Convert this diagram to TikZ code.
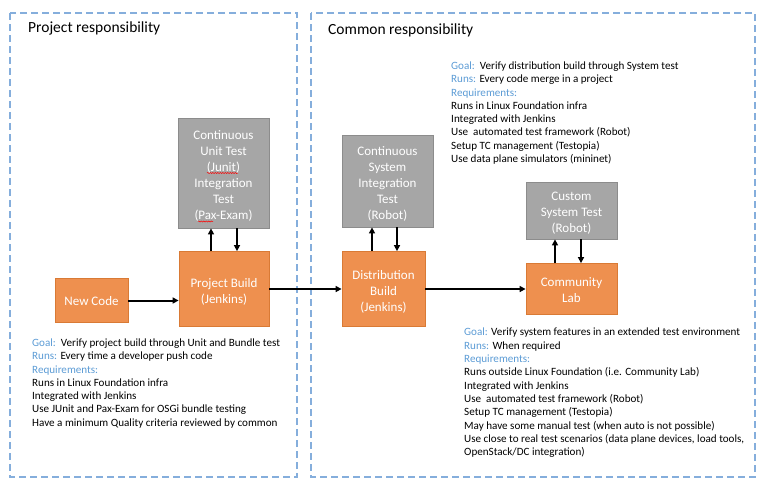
\documentclass[tikz,border=0pt]{standalone}
\usepackage{fontspec}
\setmainfont{Carlito}
\usetikzlibrary{arrows.meta,calc,decorations.pathmorphing}
\definecolor{dashblue}{HTML}{85AEDC}
\definecolor{lblblue}{HTML}{5B9BD5}
\definecolor{orfill}{HTML}{EE904F}
\definecolor{ordraw}{HTML}{D97A35}
\definecolor{gyfill}{HTML}{A6A6A6}
\definecolor{gydraw}{HTML}{8C8C8C}
\tikzset{
  region/.style={draw=dashblue, line width=1.3pt, dash pattern=on 7pt off 4pt},
  orbox/.style={draw=ordraw, fill=orfill, line width=0.8pt, inner sep=0pt},
  gybox/.style={draw=gydraw, fill=gyfill, line width=0.8pt, inner sep=0pt},
  btxt/.style={text=white, align=center, inner sep=0pt, yshift=-2.5pt,
    font=\fontsize{13}{16}\selectfont},
  arr/.style={line width=2pt, -{Triangle[length=6pt,width=6pt]}},
  info/.style={align=left, anchor=north west, inner sep=0pt, font=\fontsize{11.1}{13.3}\selectfont},
  ttl/.style={anchor=west, inner sep=0pt, font=\fontsize{15.5}{17}\selectfont},
  squig/.style={draw=red, line width=0.5pt, decorate, decoration={snake, amplitude=0.6pt, segment length=2.5pt}}
}
\newcommand{\lb}[1]{\textcolor{lblblue}{#1}}
\begin{document}
\begin{tikzpicture}[x=1pt,y=-1pt]
\useasboundingbox (0,0) rectangle (768,488);
% regions
\draw[region] (10,13) rectangle (297,477);
\draw[region] (311,13) rectangle (755,477);
\node[ttl] (t1) at (28,28) {Project responsibility};
\node[ttl] (t2) at (328,30) {Common responsibility};
% boxes
\node[gybox, minimum width=91pt, minimum height=110pt,
  label={[btxt, name=cutt]center:{Continuous\\Unit Test\\(Junit)\\Integration\\Test\\(Pax-Exam)}}] (cut) at (223.5,173) {};
\node[gybox, minimum width=91pt, minimum height=92pt,
  label={[btxt, name=csitt]center:{Continuous\\System\\Integration\\Test\\(Robot)}}] (csit) at (387.5,181) {};
\node[gybox, minimum width=91pt, minimum height=57pt,
  label={[btxt, name=cstt]center:{Custom\\System Test\\(Robot)}}] (cst) at (571.5,210.5) {};
\node[orbox, minimum width=73pt, minimum height=44pt,
  label={[btxt, yshift=1.5pt, name=nct]center:{New Code}}] (nc) at (91.5,300.5) {};
\node[orbox, minimum width=90pt, minimum height=75pt,
  label={[btxt, name=pbt]center:{Project Build\\(Jenkins)}}] (pb) at (224,289) {};
\node[orbox, minimum width=83pt, minimum height=75pt,
  label={[btxt, name=dbt]center:{Distribution\\Build\\(Jenkins)}}] (db) at (383.5,289) {};
\node[orbox, minimum width=91pt, minimum height=51pt,
  label={[btxt, yshift=1pt, name=clt]center:{Community\\Lab}}] (cl) at (571.5,289) {};
% arrows
\draw[arr] (nc.east) -- (pb.west |- nc.east);
\draw[arr] (pb.east) -- (db.west);
\draw[arr] (db.east) -- (cl.west);
\draw[arr] ([xshift=-13pt]pb.north) -- ([xshift=-13pt]pb.north |- cut.south);
\draw[arr] ([xshift=13pt]pb.north |- cut.south) -- ([xshift=13pt]pb.north);
\draw[arr] ([xshift=-11.5pt]db.north) -- ([xshift=-11.5pt]db.north |- csit.south);
\draw[arr] ([xshift=13.5pt]db.north |- csit.south) -- ([xshift=13.5pt]db.north);
\draw[arr] ([xshift=-16.5pt]cl.north) -- ([xshift=-16.5pt]cl.north |- cst.south);
\draw[arr] ([xshift=9.5pt]cl.north |- cst.south) -- ([xshift=9.5pt]cl.north);
% spell-check marks
\coordinate (s1a) at (207,173); \coordinate (s1b) at (238,173);
\coordinate (s2a) at (198,221.5); \coordinate (s2b) at (213,221.5);
\draw[squig] (s1a) -- (s1b);
\draw[squig] (s2a) -- (s2b);
% info texts
\node[info] (i1) at (32,338.5) {\lb{Goal:}\ \ Verify project build through Unit and Bundle test\\
\lb{Runs:} Every time a developer push code\\
\lb{Requirements:}\\
Runs in Linux Foundation infra\\
Integrated with Jenkins\\
Use JUnit and Pax-Exam for OSGi bundle testing\\
Have a minimum Quality criteria reviewed by common};
\node[info] (i2) at (451,61.5) {\lb{Goal:}\ \ Verify distribution build through System test\\
\lb{Runs:} Every code merge in a project\\
\lb{Requirements:}\\
Runs in Linux Foundation infra\\
Integrated with Jenkins\\
Use\ \ automated test framework (Robot)\\
Setup TC management (Testopia)\\
Use data plane simulators (mininet)};
\node[info] (i3) at (464,328) {\lb{Goal:} Verify system features in an extended test environment\\
\lb{Runs:} When required\\
\lb{Requirements:}\\
Runs outside Linux Foundation (i.e. Community Lab)\\
Integrated with Jenkins\\
Use\ \ automated test framework (Robot)\\
Setup TC management (Testopia)\\
May have some manual test (when auto is not possible)\\
Use close to real test scenarios (data plane devices, load tools,\\
OpenStack/DC integration)};
\end{tikzpicture}
\end{document}
